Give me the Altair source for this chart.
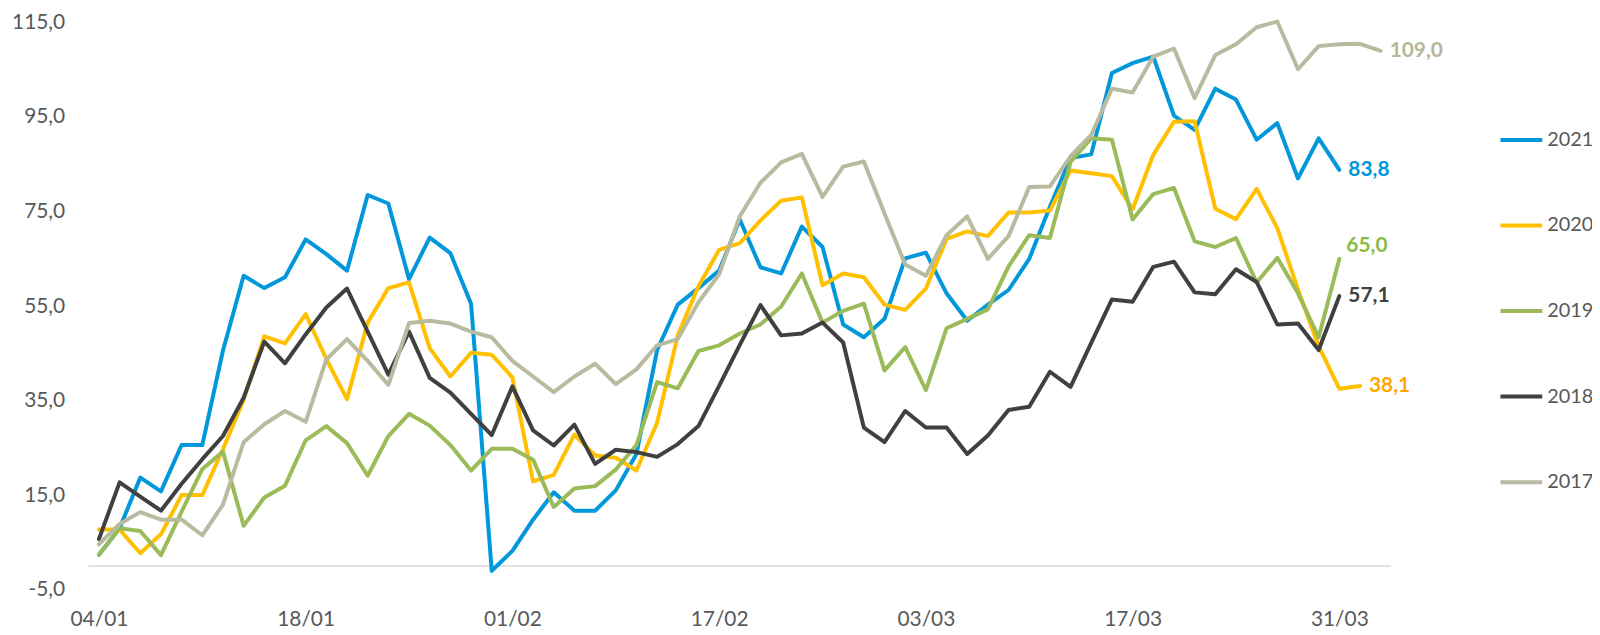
import json
import altair as alt
import pandas as pd

# ---- data -------------------------------------------------------------
years = ["2021", "2020", "2019", "2018", "2017"]
x_labels = ["04/01", "18/01", "01/02", "17/02", "03/03", "17/03", "31/03"]
label_step = 10
n_categories = 63
y_ticks = [-5, 15, 35, 55, 75, 95, 115]

v2021 = [2.4, 8.0, 18.7, 15.8, 25.6, 25.6, 45.6, 61.4, 58.8, 61.1,
         69.1, 66.0, 62.5, 78.5, 76.7, 60.7, 69.5, 66.2, 55.5, -1.0,
         3.2, 9.8, 15.6, 11.7, 11.7, 16.0, 23.7, 45.7, 55.3, 58.8,
         62.5, 73.3, 63.2, 61.9, 71.8, 67.5, 51.1, 48.4, 52.3, 65.1,
         66.3, 57.7, 51.9, 55.3, 58.4, 65.0, 76.0, 86.3, 87.1, 104.3,
         106.4, 107.8, 95.3, 92.3, 101.0, 98.7, 90.2, 93.7, 82.0, 90.5,
         83.8]
v2020 = [7.7, 7.7, 2.7, 6.7, 15.0, 15.0, 24.7, 35.2, 48.6, 47.1,
         53.3, 43.8, 35.3, 51.5, 58.8, 60.0, 46.1, 40.1, 45.1, 44.7,
         39.9, 17.9, 19.3, 27.8, 23.4, 22.9, 20.2, 30.3, 48.8, 59.2,
         66.9, 68.3, 73.1, 77.3, 78.0, 59.4, 61.9, 61.1, 55.3, 54.2,
         58.7, 69.2, 70.8, 69.8, 74.8, 74.8, 75.2, 83.7, 83.1, 82.5,
         75.5, 87.0, 94.0, 94.1, 75.6, 73.4, 79.8, 71.5, 58.5, 46.5,
         37.5, 38.1]
v2019 = [2.4, 8.0, 7.4, 2.3, 11.5, 20.5, 24.2, 8.5, 14.5, 17.0,
         26.6, 29.6, 26.0, 19.1, 27.5, 32.2, 29.7, 25.6, 20.2, 24.8,
         24.8, 22.5, 12.5, 16.4, 16.9, 20.4, 25.6, 38.9, 37.6, 45.5,
         46.7, 49.2, 51.1, 54.9, 61.9, 51.5, 54.0, 55.5, 41.4, 46.3,
         37.2, 50.3, 52.3, 54.3, 63.4, 70.0, 69.4, 85.5, 90.5, 90.2,
         73.3, 78.7, 80.0, 68.7, 67.5, 69.4, 60.0, 65.2, 57.7, 48.4,
         65.0]
v2018 = [5.7, 17.7, 14.7, 11.7, 17.4, 22.6, 27.5, 35.6, 47.5, 42.9,
         49.0, 54.7, 58.7, 49.6, 40.5, 49.6, 39.8, 36.7, 32.2, 27.7,
         38.0, 28.7, 25.5, 29.9, 21.6, 24.6, 24.1, 23.1, 25.8, 29.6,
         38.1, 46.8, 55.2, 48.8, 49.2, 51.5, 47.3, 29.3, 26.2, 32.8,
         29.3, 29.3, 23.7, 27.6, 33.0, 33.7, 41.1, 37.9, 47.2, 56.4,
         55.9, 63.3, 64.4, 57.9, 57.5, 62.8, 60.1, 51.1, 51.3, 45.7,
         57.1]
v2017 = [4.6, 8.9, 11.4, 9.8, 9.8, 6.5, 13.0, 26.2, 30.0, 32.8,
         30.5, 43.7, 48.0, 43.4, 38.3, 51.4, 51.9, 51.3, 49.6, 48.4,
         43.4, 40.1, 36.8, 40.1, 42.8, 38.5, 41.6, 46.7, 48.0, 55.8,
         61.7, 74.0, 81.1, 85.4, 87.2, 78.1, 84.5, 85.6, 74.6, 63.8,
         61.4, 70.0, 74.0, 65.0, 69.8, 80.2, 80.3, 86.7, 91.2, 101.0,
         100.2, 107.8, 109.5, 99.0, 108.1, 110.4, 114.0, 115.2, 105.1, 110.0,
         110.4, 110.5, 109.0]

series = [v2021, v2020, v2019, v2018, v2017]

# ---- styles -----------------------------------------------------------
line_colors = ["#0098DA", "#FFC000", "#9BBB59", "#404040", "#B8BB9F"]
label_colors = ["#0098DA", "#FFA800", "#86BC42", "#404040", "#B3B798"]
FONT = "Lato"
TXT = "#595959"

rows = []
for yr, vals in zip(years, series):
    for i, v in enumerate(vals):
        rows.append({"year": yr, "i": i, "v": v})
df = pd.DataFrame(rows)
last = df.groupby("year", sort=False).tail(1).reset_index(drop=True)

x_scale = alt.Scale(domain=[-0.5, n_categories - 0.5], nice=False, zero=False)
y_scale = alt.Scale(domain=[y_ticks[0], y_ticks[-1]], nice=False, zero=False)

x_expr = json.dumps(x_labels) + f"[round(datum.value / {label_step})]"
y_expr = "replace(replace(format(datum.value, '.1f'), '.', ','), '\u2212', '-')"

x_enc = alt.X(
    "i:Q", scale=x_scale,
    axis=alt.Axis(values=list(range(0, n_categories, label_step)), labelExpr=x_expr,
                  grid=False, domain=False, ticks=False, labelPadding=19,
                  labelFontSize=21, labelFont=FONT, labelColor=TXT,
                  labelFlush=False, labelOverlap=False, title=None),
)
y_enc = alt.Y(
    "v:Q", scale=y_scale,
    axis=alt.Axis(values=y_ticks, labelExpr=y_expr, grid=False, domain=False,
                  ticks=False, labelPadding=24, labelFontSize=21, labelFont=FONT,
                  labelColor=TXT, title=None),
)

zero_line = alt.Chart(pd.DataFrame({"z": [0]})).mark_rule(
    color="#D9D9D9", strokeWidth=1.5
).encode(y=alt.Y("z:Q", scale=y_scale))

lines = alt.Chart(df).mark_line(
    strokeWidth=4, strokeCap="round", strokeJoin="round"
).encode(
    x=x_enc,
    y=y_enc,
    color=alt.Color(
        "year:N",
        scale=alt.Scale(domain=years, range=line_colors),
        sort=years,
        legend=alt.Legend(
            orient="none", legendX=1417, legendY=95, title=None,
            symbolType="stroke", symbolSize=1764, symbolStrokeWidth=4,
            labelFontSize=20, labelFont=FONT, labelColor=TXT,
            rowPadding=53, labelOffset=3,
        ),
    ),
    detail="year:N",
    order="i:Q",
)

label_color = alt.Color("year:N", scale=alt.Scale(domain=years, range=label_colors), legend=None)
lbl_calc = "replace(format(datum.v, '.1f'), '.', ',')"

end_labels = alt.Chart(last).transform_filter(
    "datum.year != '2019'"
).transform_calculate(lbl=lbl_calc).mark_text(
    align="left", baseline="middle", dx=9, fontSize=21, fontWeight="bold", font=FONT
).encode(x=alt.X("i:Q", scale=x_scale), y=alt.Y("v:Q", scale=y_scale), text="lbl:N", color=label_color)

end_label_2019 = alt.Chart(last).transform_filter(
    "datum.year == '2019'"
).transform_calculate(lbl=lbl_calc).mark_text(
    align="left", baseline="middle", dx=7, dy=-13, fontSize=21, fontWeight="bold", font=FONT
).encode(x=alt.X("i:Q", scale=x_scale), y=alt.Y("v:Q", scale=y_scale), text="lbl:N", color=label_color)

chart = alt.layer(zero_line, lines, end_labels, end_label_2019).resolve_scale(
    color="independent"
).properties(
    width=1309,
    height=570,
    padding={"left": 81, "top": 13, "right": 202, "bottom": 40},
    autosize=alt.AutoSizeParams(type="none"),
).configure_view(stroke=None)

chart.save("out.html", embed_options={"renderer": "svg", "actions": False})
